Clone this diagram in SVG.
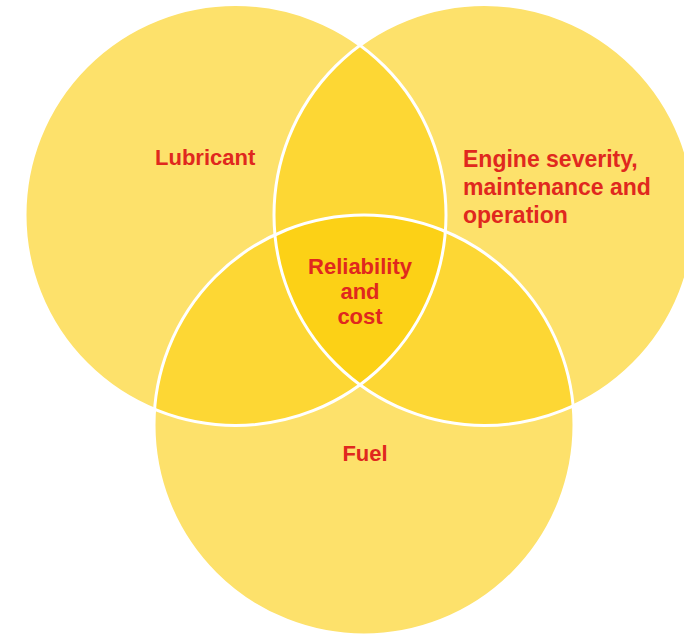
<svg xmlns="http://www.w3.org/2000/svg" width="684" height="637" viewBox="0 0 684 637">
  <style>
    .base { fill: #FDE16B; }
    .two { fill: #FDD734; }
    .three { fill: #FCD116; }
    .edge { fill: none; stroke: #FFFFFF; stroke-width: 3; }
    .lbl { font-family: "Liberation Sans", Arial, sans-serif; font-weight: bold; font-size: 22px; fill: #E0281E; }
    .big { font-size: 23px; }
  </style>
  <defs>
    <circle id="cL" cx="235.5" cy="215" r="210.5"/>
    <circle id="cR" cx="484.5" cy="215" r="210.5"/>
    <circle id="cF" cx="364" cy="425" r="210"/>
    <clipPath id="clipL"><use href="#cL"/></clipPath>
    <clipPath id="clipR"><use href="#cR"/></clipPath>
    <clipPath id="clipLR" clip-path="url(#clipL)"><use href="#cR"/></clipPath>
  </defs>
  <rect width="684" height="637" fill="#FFFFFF"/>
  <g id="lubricant">
    <use href="#cL" class="base"/>
  </g>
  <g id="engine">
    <use href="#cR" class="base"/>
  </g>
  <g id="fuel">
    <use href="#cF" class="base"/>
  </g>
  <g id="overlaps">
    <use href="#cR" class="two" clip-path="url(#clipL)"/>
    <use href="#cF" class="two" clip-path="url(#clipL)"/>
    <use href="#cF" class="two" clip-path="url(#clipR)"/>
  </g>
  <g id="reliability">
    <use href="#cF" class="three" clip-path="url(#clipLR)"/>
  </g>
  <g id="edges">
    <use href="#cL" class="edge"/>
    <use href="#cR" class="edge"/>
    <use href="#cF" class="edge"/>
  </g>
  <g id="labels">
    <text class="lbl" x="155" y="165">Lubricant</text>
    <text class="lbl big" x="463" y="167">Engine severity,</text>
    <text class="lbl big" x="463" y="195">maintenance and</text>
    <text class="lbl big" x="463" y="223">operation</text>
    <text class="lbl" x="360" y="274" text-anchor="middle">Reliability</text>
    <text class="lbl" x="360" y="299" text-anchor="middle">and</text>
    <text class="lbl" x="360" y="324" text-anchor="middle">cost</text>
    <text class="lbl" x="365" y="461" text-anchor="middle">Fuel</text>
  </g>
</svg>
